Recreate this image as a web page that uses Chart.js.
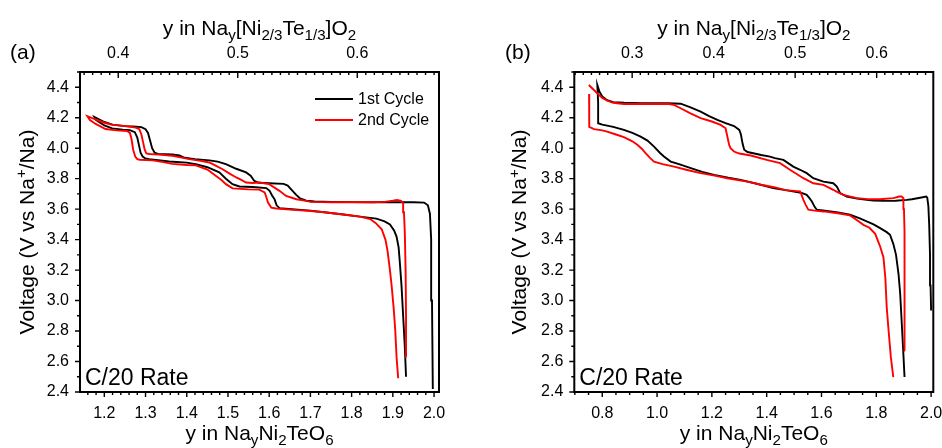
<!DOCTYPE html>
<html>
<head>
<meta charset="utf-8">
<script src="https://cdn.jsdelivr.net/npm/chart.js@4.4.0/dist/chart.umd.min.js"></script>
<style>
  html, body { margin: 0; padding: 0; background: #fff; }
  #wrap { position: relative; width: 942px; height: 448px; overflow: hidden; }
  canvas { position: absolute; top: 0; }
  #chartA { left: 0; }
  #chartB { left: 470px; }
</style>
</head>
<body>
<div id="wrap">
  <canvas id="chartA" width="470" height="448"></canvas>
  <canvas id="chartB" width="472" height="448"></canvas>
</div>
<script>
const FONT = "'Liberation Sans', Arial, Helvetica, sans-serif";

// voltage axis, shared by both panels
const voltTicks = [2.4, 2.6, 2.8, 3.0, 3.2, 3.4, 3.6, 3.8, 4.0, 4.2, 4.4];

// ---- panel (a) ----
const aXTicks = [1.2, 1.3, 1.4, 1.5, 1.6, 1.7, 1.8, 1.9, 2.0];
const aTopTicks = [0.4, 0.5, 0.6];

// 1st cycle: charge (right to left) then discharge
const a1ChargeX = [1.997, 1.995, 1.993, 1.990, 1.985, 1.976, 1.95, 1.90, 1.85, 1.80, 1.75, 1.71, 1.69, 1.675, 1.665, 1.655, 1.645, 1.635, 1.60, 1.575, 1.564, 1.555, 1.544, 1.52, 1.495, 1.475, 1.455, 1.42, 1.395, 1.382, 1.365, 1.33, 1.322, 1.316, 1.311, 1.306, 1.300, 1.29, 1.27, 1.25, 1.22, 1.20, 1.176];
const a1ChargeV = [2.42, 3.0, 3.4, 3.57, 3.625, 3.643, 3.645, 3.645, 3.645, 3.646, 3.648, 3.650, 3.655, 3.670, 3.695, 3.725, 3.755, 3.766, 3.770, 3.773, 3.785, 3.82, 3.841, 3.865, 3.895, 3.912, 3.920, 3.928, 3.937, 3.952, 3.959, 3.962, 3.97, 4.00, 4.05, 4.10, 4.125, 4.138, 4.142, 4.145, 4.155, 4.172, 4.205];
const a1DischargeX = [1.176, 1.18, 1.20, 1.219, 1.245, 1.262, 1.274, 1.280, 1.284, 1.288, 1.293, 1.30, 1.309, 1.357, 1.40, 1.422, 1.45, 1.479, 1.495, 1.511, 1.528, 1.56, 1.593, 1.601, 1.607, 1.613, 1.618, 1.625, 1.64, 1.70, 1.739, 1.78, 1.82, 1.86, 1.88, 1.893, 1.903, 1.909, 1.914, 1.917, 1.921, 1.925, 1.929, 1.932];
const a1DischargeV = [4.205, 4.185, 4.15, 4.13, 4.122, 4.118, 4.105, 4.07, 4.02, 3.97, 3.945, 3.932, 3.928, 3.913, 3.905, 3.895, 3.875, 3.841, 3.80, 3.764, 3.749, 3.745, 3.738, 3.72, 3.69, 3.665, 3.625, 3.607, 3.603, 3.59, 3.578, 3.565, 3.551, 3.538, 3.52, 3.50, 3.46, 3.42, 3.35, 3.25, 3.1, 2.9, 2.7, 2.5];

// 2nd cycle
const a2ChargeX = [1.933, 1.932, 1.931, 1.929, 1.927, 1.925, 1.92, 1.91, 1.90, 1.88, 1.85, 1.80, 1.75, 1.70, 1.69, 1.666, 1.641, 1.625, 1.60, 1.576, 1.56, 1.544, 1.53, 1.52, 1.50, 1.487, 1.47, 1.455, 1.43, 1.406, 1.385, 1.365, 1.333, 1.31, 1.302, 1.298, 1.294, 1.290, 1.285, 1.276, 1.26, 1.24, 1.219, 1.20, 1.187, 1.159];
const a2ChargeV = [2.63, 2.9, 3.2, 3.45, 3.58, 3.64, 3.655, 3.66, 3.655, 3.648, 3.645, 3.645, 3.645, 3.648, 3.654, 3.665, 3.687, 3.72, 3.764, 3.775, 3.772, 3.775, 3.795, 3.808, 3.84, 3.862, 3.885, 3.906, 3.918, 3.928, 3.94, 3.95, 3.958, 3.962, 3.966, 3.99, 4.04, 4.09, 4.125, 4.135, 4.142, 4.148, 4.154, 4.167, 4.18, 4.21];
const a2DischargeX = [1.159, 1.165, 1.179, 1.203, 1.23, 1.255, 1.262, 1.266, 1.270, 1.275, 1.280, 1.286, 1.317, 1.34, 1.365, 1.40, 1.422, 1.45, 1.471, 1.485, 1.495, 1.511, 1.55, 1.576, 1.589, 1.593, 1.597, 1.605, 1.617, 1.66, 1.70, 1.739, 1.78, 1.82, 1.845, 1.858, 1.873, 1.882, 1.887, 1.893, 1.897, 1.902, 1.906, 1.909, 1.913];
const a2DischargeV = [4.21, 4.185, 4.159, 4.126, 4.117, 4.113, 4.10, 4.06, 3.99, 3.945, 3.928, 3.924, 3.92, 3.91, 3.897, 3.89, 3.887, 3.86, 3.818, 3.79, 3.764, 3.736, 3.73, 3.728, 3.709, 3.68, 3.643, 3.61, 3.604, 3.595, 3.588, 3.578, 3.565, 3.551, 3.535, 3.51, 3.468, 3.40, 3.33, 3.2, 3.1, 2.95, 2.8, 2.63, 2.49];

// ---- panel (b) ----
const bXTicks = [0.8, 1.0, 1.2, 1.4, 1.6, 1.8, 2.0];
const bTopTicks = [0.3, 0.4, 0.5, 0.6];

const b1ChargeX = [2.0, 1.998, 1.996, 1.993, 1.99, 1.986, 1.982, 1.96, 1.93, 1.911, 1.87, 1.826, 1.79, 1.765, 1.73, 1.692, 1.668, 1.656, 1.643, 1.607, 1.57, 1.546, 1.52, 1.497, 1.461, 1.43, 1.412, 1.38, 1.351, 1.33, 1.318, 1.312, 1.306, 1.300, 1.281, 1.25, 1.22, 1.19, 1.159, 1.12, 1.086, 1.04, 0.94, 0.88, 0.84, 0.818, 0.80, 0.79, 0.782];
const b1ChargeV = [2.935, 3.1, 3.3, 3.5, 3.62, 3.675, 3.683, 3.675, 3.665, 3.661, 3.655, 3.654, 3.656, 3.661, 3.67, 3.683, 3.705, 3.748, 3.77, 3.781, 3.803, 3.836, 3.86, 3.879, 3.923, 3.935, 3.945, 3.955, 3.967, 3.975, 3.99, 4.03, 4.09, 4.12, 4.145, 4.165, 4.186, 4.21, 4.24, 4.27, 4.292, 4.295, 4.295, 4.298, 4.302, 4.315, 4.34, 4.37, 4.415];
const b1DischargeX = [0.782, 0.785, 0.785, 0.80, 0.84, 0.879, 0.91, 0.94, 0.965, 0.989, 1.01, 1.025, 1.05, 1.08, 1.123, 1.165, 1.208, 1.26, 1.305, 1.36, 1.424, 1.485, 1.53, 1.546, 1.556, 1.565, 1.575, 1.583, 1.619, 1.66, 1.704, 1.74, 1.765, 1.79, 1.814, 1.838, 1.85, 1.862, 1.872, 1.881, 1.887, 1.893, 1.898, 1.903];
const b1DischargeV = [4.415, 4.30, 4.164, 4.155, 4.14, 4.12, 4.10, 4.076, 4.05, 4.01, 3.97, 3.945, 3.912, 3.895, 3.869, 3.845, 3.825, 3.806, 3.792, 3.768, 3.738, 3.72, 3.705, 3.694, 3.672, 3.65, 3.615, 3.596, 3.589, 3.578, 3.563, 3.54, 3.519, 3.5, 3.475, 3.449, 3.432, 3.372, 3.30, 3.176, 3.05, 2.848, 2.68, 2.498];

const b2ChargeX = [1.904, 1.904, 1.903, 1.902, 1.901, 1.899, 1.892, 1.884, 1.862, 1.814, 1.77, 1.729, 1.68, 1.66, 1.643, 1.607, 1.57, 1.534, 1.485, 1.449, 1.40, 1.342, 1.30, 1.281, 1.268, 1.263, 1.256, 1.25, 1.232, 1.20, 1.159, 1.12, 1.086, 1.06, 1.037, 0.96, 0.879, 0.84, 0.818, 0.80, 0.782, 0.765, 0.751];
const b2ChargeV = [2.67, 2.9, 3.2, 3.45, 3.6, 3.672, 3.683, 3.683, 3.672, 3.665, 3.666, 3.672, 3.694, 3.71, 3.727, 3.759, 3.77, 3.803, 3.858, 3.902, 3.923, 3.952, 3.965, 3.978, 4.0, 4.022, 4.08, 4.131, 4.153, 4.175, 4.197, 4.23, 4.262, 4.285, 4.292, 4.29, 4.29, 4.298, 4.312, 4.33, 4.36, 4.39, 4.415];
const b2DischargeX = [0.752, 0.752, 0.753, 0.77, 0.80, 0.818, 0.85, 0.879, 0.91, 0.928, 0.945, 0.958, 0.975, 0.989, 1.02, 1.062, 1.11, 1.159, 1.21, 1.256, 1.329, 1.38, 1.427, 1.47, 1.51, 1.522, 1.528, 1.534, 1.542, 1.552, 1.575, 1.607, 1.66, 1.704, 1.735, 1.753, 1.775, 1.796, 1.814, 1.826, 1.833, 1.838, 1.845, 1.853, 1.862];
const b2DischargeV = [4.356, 4.25, 4.14, 4.125, 4.117, 4.109, 4.09, 4.072, 4.045, 4.022, 3.995, 3.967, 3.935, 3.912, 3.895, 3.879, 3.857, 3.836, 3.82, 3.803, 3.781, 3.76, 3.744, 3.725, 3.718, 3.716, 3.69, 3.661, 3.63, 3.596, 3.59, 3.585, 3.573, 3.559, 3.52, 3.497, 3.478, 3.438, 3.355, 3.285, 3.15, 2.957, 2.8, 2.63, 2.498];

const cycleNames = ['1st Cycle', '2nd Cycle'];
const cycleColors = ['#000000', '#ff0000'];

function pts(xs, vs) {
  return xs.map((x, i) => ({ x: x, y: vs[i] }));
}

function cycle(i, parts, breakBetween) {
  let data = [];
  parts.forEach((p, k) => {
    if (k > 0 && breakBetween) data.push({ x: p[0][0], y: null });
    data = data.concat(pts(p[0], p[1]));
  });
  return {
    label: cycleNames[i],
    data: data,
    borderColor: cycleColors[i],
    borderWidth: 1.9,
    pointRadius: 0,
    showLine: true,
    fill: false,
    tension: 0,
    spanGaps: false,
    order: 1 - i // red drawn over black
  };
}

// rich text: parts are [text, kind] with kind '', 'sub' or 'sup'
function richWidth(ctx, parts, size) {
  let w = 0;
  parts.forEach(([t, k]) => {
    ctx.font = (k ? size * 0.72 : size) + 'px ' + FONT;
    w += ctx.measureText(t).width;
  });
  return w;
}
function drawRich(ctx, parts, x, y, size) {
  let cx = x;
  parts.forEach(([t, k]) => {
    const s = k ? size * 0.72 : size;
    ctx.font = s + 'px ' + FONT;
    const dy = k === 'sub' ? size * 0.24 : k === 'sup' ? -size * 0.36 : 0;
    ctx.fillText(t, cx, y + dy);
    cx += ctx.measureText(t).width;
  });
}

const bottomTitle = [['y in Na', ''], ['y', 'sub'], ['Ni', ''], ['2', 'sub'], ['TeO', ''], ['6', 'sub']];
const topTitle = [['y in Na', ''], ['y', 'sub'], ['[Ni', ''], ['2/3', 'sub'], ['Te', ''], ['1/3', 'sub'], [']O', ''], ['2', 'sub']];
const voltTitle = [['Voltage (V vs Na', ''], ['+', 'sup'], ['/Na)', '']];

// tick values from a set of majors and a minor step, covering the axis range
function tickValues(scale, majors, step) {
  const out = [];
  const start = majors[0] - Math.floor((majors[0] - scale.min) / step + 1e-9) * step;
  for (let v = start; v <= scale.max + 1e-9; v += step) {
    const major = majors.some(m => Math.abs(m - v) < step / 3);
    out.push({ v: v, major: major });
  }
  return out;
}

const frameTicks = {
  id: 'frameTicks',
  afterDatasetsDraw(chart, args, o) {
    const { ctx, chartArea: ca, scales } = chart;
    ctx.save();
    ctx.strokeStyle = '#000';
    ctx.lineWidth = 1.4;
    ctx.beginPath();
    tickValues(scales.y, voltTicks, 0.1).forEach(t => {
      const p = scales.y.getPixelForValue(t.v);
      ctx.moveTo(ca.left - (t.major ? 5 : 3), p);
      ctx.lineTo(ca.left, p);
    });
    tickValues(scales.x, o.xMajors, o.xMinor).forEach(t => {
      const p = scales.x.getPixelForValue(t.v);
      ctx.moveTo(p, ca.bottom);
      ctx.lineTo(p, ca.bottom + (t.major ? 5 : 3));
    });
    tickValues(scales.x2, o.topMajors, o.topMinor).forEach(t => {
      const p = scales.x2.getPixelForValue(t.v);
      ctx.moveTo(p, ca.top);
      ctx.lineTo(p, ca.top + (t.major ? 6 : 3));
    });
    ctx.stroke();
    ctx.lineWidth = 2;
    ctx.strokeRect(ca.left, ca.top, ca.right - ca.left, ca.bottom - ca.top);
    ctx.restore();
  }
};

const panelText = {
  id: 'panelText',
  afterDraw(chart, args, o) {
    const { ctx, chartArea: ca } = chart;
    const mid = (ca.left + ca.right) / 2;
    ctx.save();
    ctx.fillStyle = '#000';
    ctx.textBaseline = 'alphabetic';
    ctx.textAlign = 'left';

    let w = richWidth(ctx, topTitle, 21);
    drawRich(ctx, topTitle, mid - w / 2, 35, 21);
    w = richWidth(ctx, bottomTitle, 21);
    drawRich(ctx, bottomTitle, mid - w / 2, 440, 21);

    ctx.save();
    ctx.translate(ca.left - o.voltOffset, (ca.top + ca.bottom) / 2);
    ctx.rotate(-Math.PI / 2);
    w = richWidth(ctx, voltTitle, 21);
    drawRich(ctx, voltTitle, -w / 2, 0, 21);
    ctx.restore();

    ctx.font = '21px ' + FONT;
    ctx.fillText(o.tag, o.tagX, 59);
    ctx.font = '23px ' + FONT;
    ctx.fillText('C/20 Rate', ca.left + 5, ca.bottom - 7);

    if (o.legend) {
      ctx.font = '16px ' + FONT;
      ctx.textBaseline = 'middle';
      chart.data.datasets.forEach((ds, i) => {
        const y = ca.top + 27 + i * 21;
        ctx.strokeStyle = ds.borderColor;
        ctx.lineWidth = 1.9;
        ctx.beginPath();
        ctx.moveTo(ca.left + 235, y);
        ctx.lineTo(ca.left + 273, y);
        ctx.stroke();
        ctx.fillText(ds.label, ca.left + 278, y + 1);
      });
    }
    ctx.restore();
  }
};

function axisTicks(values) {
  return function (scale) {
    scale.ticks = values.map(v => ({ value: v }));
  };
}

function makePanel(id, opts) {
  const tickFont = { family: FONT, size: 16 };
  return new Chart(document.getElementById(id), {
    type: 'scatter',
    data: { datasets: opts.datasets },
    options: {
      responsive: false,
      animation: false,
      devicePixelRatio: 1,
      layout: { padding: { left: 0, right: opts.padRight, top: 0, bottom: 0 } },
      plugins: {
        legend: { display: false },
        tooltip: { enabled: false },
        frameTicks: { xMajors: opts.xTicks, xMinor: opts.xMinor, topMajors: opts.topTicks, topMinor: opts.topMinor },
        panelText: { tag: opts.tag, tagX: opts.tagX, legend: opts.legend, voltOffset: opts.voltOffset }
      },
      scales: {
        x: {
          type: 'linear', position: 'bottom', min: opts.xMin, max: opts.xMax,
          afterBuildTicks: axisTicks(opts.xTicks),
          afterFit: s => { s.height = 56; s.paddingLeft = 0; s.paddingRight = 0; },
          grid: { display: false, drawTicks: false },
          border: { display: false },
          ticks: { font: tickFont, color: '#000', padding: 12, maxRotation: 0, autoSkip: false, callback: v => v.toFixed(1) }
        },
        x2: {
          type: 'linear', position: 'top', min: opts.topMin, max: opts.topMax,
          afterBuildTicks: axisTicks(opts.topTicks),
          afterFit: s => { s.height = 72; s.paddingLeft = 0; s.paddingRight = 0; },
          grid: { display: false, drawTicks: false },
          border: { display: false },
          ticks: { font: tickFont, color: '#000', padding: 9, maxRotation: 0, autoSkip: false, callback: v => v.toFixed(1) }
        },
        y: {
          type: 'linear', position: 'left', min: 2.4, max: 4.5,
          afterBuildTicks: axisTicks(voltTicks),
          afterFit: s => { s.width = opts.yWidth; s.paddingTop = 0; s.paddingBottom = 0; },
          grid: { display: false, drawTicks: false },
          border: { display: false },
          ticks: { font: tickFont, color: '#000', padding: 11, autoSkip: false, callback: v => v.toFixed(1) }
        }
      }
    },
    plugins: [frameTicks, panelText]
  });
}

makePanel('chartA', {
  datasets: [
    cycle(0, [[a1ChargeX, a1ChargeV], [a1DischargeX, a1DischargeV]], false),
    cycle(1, [[a2ChargeX, a2ChargeV], [a2DischargeX, a2DischargeV]], false)
  ],
  xMin: 1.141, xMax: 2.012, xTicks: aXTicks, xMinor: 0.02,
  topMin: 0.368, topMax: 0.6684, topTicks: aTopTicks, topMinor: 0.1 / 14,
  yWidth: 80, padRight: 31, tag: '(a)', tagX: 10, legend: true, voltOffset: 46
});

makePanel('chartB', {
  datasets: [
    cycle(0, [[b1ChargeX, b1ChargeV], [b1DischargeX, b1DischargeV]], false),
    cycle(1, [[b2ChargeX, b2ChargeV], [b2DischargeX, b2DischargeV]], true)
  ],
  xMin: 0.698, xMax: 2.008, xTicks: bXTicks, xMinor: 0.05,
  topMin: 0.229, topMax: 0.6695, topTicks: bTopTicks, topMinor: 0.01,
  yWidth: 104.3, padRight: 8.7, tag: '(b)', tagX: 35, legend: false, voltOffset: 48
});
</script>
</body>
</html>
